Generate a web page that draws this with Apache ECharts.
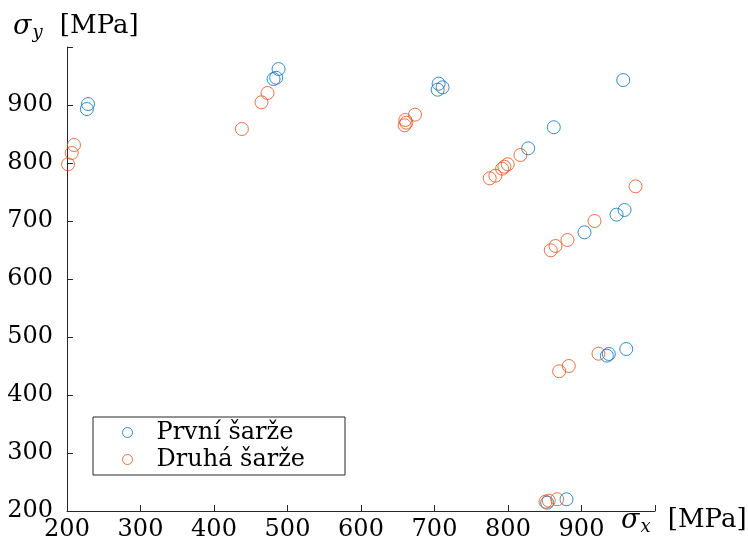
<!DOCTYPE html>
<html>
<head>
<meta charset="utf-8">
<script src="https://cdn.jsdelivr.net/npm/echarts@6/dist/echarts.min.js"></script>
<style>
  html, body { margin: 0; padding: 0; background: #fff; }
  #main { width: 748px; height: 545px; }
</style>
</head>
<body>
<div id="main"></div>
<script>
/* sigma_x / sigma_y, dvě šarže */
var seriesNames = ['První šarže', 'Druhá šarže'];

var prvniX = [228.6, 227, 487.8, 484.6, 481, 705.6, 711, 704.3, 956.8, 862.3, 827.4, 958.6, 947.7, 904.1, 960.9, 937.2, 934.5, 879.6, 853.3];
var prvniY = [901.7, 893, 962, 947, 944.8, 936.7, 930.5, 926.4, 943, 861.6, 825.3, 719, 710.9, 680.5, 479.3, 470.7, 467.8, 220.2, 214.3];

var druhaX = [209.5, 206.4, 201.4, 472.8, 464.6, 437.9, 673.5, 660.3, 661.7, 659.4, 816.9, 799.6, 795.1, 792, 782.9, 775.1, 973.5, 917.7, 880.9, 864.6, 858.2, 923.1, 882.7, 869.6, 866.9, 855.5, 851];
var druhaY = [831, 817.2, 797.8, 920.7, 904.7, 858.6, 883.3, 874.1, 869.5, 865, 813.8, 797.8, 793.6, 790.2, 778.1, 773.6, 759.8, 700, 667.2, 656.9, 649.5, 471.2, 450, 440.9, 220.2, 217.8, 216];

var xTicks = [200, 300, 400, 500, 600, 700, 800, 900];
var yTicks = [200, 300, 400, 500, 600, 700, 800, 900];

function pairs(xs, ys) {
	var out = [];
	for (var i = 0; i < xs.length; i++) out.push([xs[i], ys[i]]);
	return out;
}

(function(){
	var font = 'DejaVu Serif';
	var myChart = echarts.init(document.getElementById('main'));
	var axisLabel = function(list){
		return {
			fontFamily: font,
			fontSize: 24,
			color: '#000',
			formatter: function(v){ return list.indexOf(v) >= 0 ? String(v) : ''; }
		};
	};
	var nameRich = {
		s: { fontFamily: font, fontStyle: 'italic', fontSize: 27, color: '#000' },
		b: { fontFamily: font, fontStyle: 'italic', fontSize: 18, color: '#000', padding: [13, 0, 0, 1] },
		n: { fontFamily: font, fontSize: 26, color: '#000', padding: [0, 0, 0, 9] }
	};
	var option = {
		backgroundColor: '#fff',
		animation: false,
		grid: { left: 67, right: 93, top: 47, bottom: 34 },
		legend: {
			orient: 'vertical',
			left: 93,
			top: 417,
			padding: [3, 40, 3, 29],
			itemGap: 2,
			itemWidth: 10,
			itemHeight: 10,
			borderColor: '#262626',
			borderWidth: 1,
			backgroundColor: '#fff',
			itemStyle: { color: 'rgba(0,0,0,0)', borderWidth: 1 },
			textStyle: { fontFamily: font, fontSize: 24, color: '#000', padding: [0, 0, 0, 19], lineHeight: 25 },
			data: seriesNames
		},
		xAxis: {
			type: 'value',
			min: 200, max: 1000, interval: 100,
			axisLine: { show: true, onZero: false, lineStyle: { color: '#262626', width: 1 } },
			axisTick: { show: true, inside: true, length: 6, lineStyle: { color: '#262626' } },
			splitLine: { show: false },
			axisLabel: Object.assign(axisLabel(xTicks), { margin: 7 })
		},
		yAxis: {
			type: 'value',
			min: 200, max: 1000, interval: 100,
			axisLine: { show: true, onZero: false, lineStyle: { color: '#262626', width: 1 } },
			axisTick: { show: true, inside: true, length: 6, lineStyle: { color: '#262626' } },
			splitLine: { show: false },
			axisLabel: Object.assign(axisLabel(yTicks), { margin: 14 })
		},
		graphic: [
			{
				type: 'text', left: 13, top: 13,
				style: { text: '{s|σ}{b|y}{n| [MPa]}', rich: nameRich }
			},
			{
				type: 'text', left: 621, top: 507,
				style: { text: '{s|σ}{b|x}{n| [MPa]}', rich: nameRich }
			}
		],
		series: [
			{
				name: seriesNames[0],
				type: 'scatter',
				symbol: 'circle',
				symbolSize: 13,
				itemStyle: { color: 'rgba(0,0,0,0)', borderColor: '#0072BD', borderWidth: 1 },
				data: pairs(prvniX, prvniY)
			},
			{
				name: seriesNames[1],
				type: 'scatter',
				symbol: 'circle',
				symbolSize: 13,
				itemStyle: { color: 'rgba(0,0,0,0)', borderColor: '#D95319', borderWidth: 1 },
				data: pairs(druhaX, druhaY)
			}
		]
	};
	myChart.setOption(option);
})();
</script>
</body>
</html>
